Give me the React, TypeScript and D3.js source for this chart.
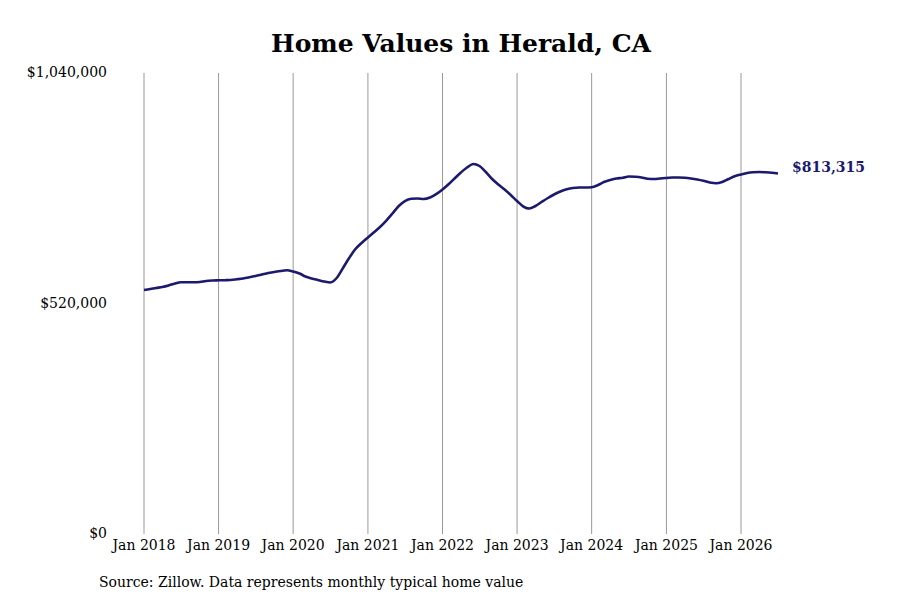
import React from "react";
import * as d3 from "d3";

const title = "Home Values in Herald, CA";
const source = "Source: Zillow. Data represents monthly typical home value";
const startYear = 2018;
const yTicks = [0, 520000, 1040000];
const xTickYears = [2018, 2019, 2020, 2021, 2022, 2023, 2024, 2025, 2026];
const values = [
  550500, 552700, 555000, 557200, 560600, 565100, 567800, 567800, 567800, 568500, 570800, 571900,
  572300, 572600, 573000, 574600, 576400, 579100, 582000, 585400, 588800, 591100, 593300, 594900,
  592200, 587700, 580900, 576400, 573000, 569600, 567400, 577500, 600100, 622600, 643000, 656500,
  668900, 681300, 692600, 707200, 723000, 740000, 751200, 756200, 756900, 755700, 759100, 766600,
  777200, 789600, 802000, 815500, 826800, 834700, 830200, 816700, 800900, 788500, 777200, 764800,
  751200, 738800, 734300, 740000, 749000, 758000, 765900, 772700, 777600, 780600, 781700, 781700,
  782400, 787300, 794100, 798600, 802000, 803600, 806500, 805800, 804200, 801300, 800900, 802000,
  803100, 804200, 804200, 803600, 802000, 799700, 796800, 793000, 791200, 794100, 800900, 807000,
  811000, 814400, 816000, 816700, 816000, 814900, 813315,
];
const dates = values.map((_, i) => new Date(startYear, i, 1));

const W = 900;
const H = 600;
const FONT = "'DejaVu Serif', serif";
const NAVY = "#1b1a6c";

export default function App() {
  const x = d3
    .scaleTime()
    .domain([new Date(2018, 0, 1), new Date(2026, 0, 1)])
    .range([144, 741]);
  const y = d3.scaleLinear().domain([0, 1040000]).range([534, 73]);
  const line = d3
    .line<number>()
    .x((_, i) => x(dates[i]))
    .y((d) => y(d))
    .curve(d3.curveMonotoneX);
  const fmt = (v: number) => "$" + d3.format(",")(v);
  const lastX = x(dates[dates.length - 1]);
  const lastY = y(values[values.length - 1]);

  return (
    <svg
      width={W}
      height={H}
      style={{ position: "absolute", left: 0, top: 0, background: "#fff" }}
      fontFamily={FONT}
    >
      <rect width={W} height={H} fill="#fff" />
      <text x={461} y={52} textAnchor="middle" fontSize={25} fontWeight="bold" fill="#000">
        {title}
      </text>
      {xTickYears.map((yr) => (
        <line
          key={yr}
          x1={x(new Date(yr, 0, 1))}
          x2={x(new Date(yr, 0, 1))}
          y1={73}
          y2={534}
          stroke="#999"
          strokeWidth={1}
        />
      ))}
      {yTicks.map((t) => (
        <text key={t} x={107} y={y(t)} dy="0.3em" textAnchor="end" fontSize={14} fill="#000">
          {fmt(t)}
        </text>
      ))}
      {xTickYears.map((yr) => (
        <text
          key={yr}
          x={x(new Date(yr, 0, 1))}
          y={545}
          dy="0.35em"
          textAnchor="middle"
          fontSize={14}
          fill="#000"
        >
          {"Jan " + yr}
        </text>
      ))}
      <path d={line(values) || ""} fill="none" stroke={NAVY} strokeWidth={2.6} strokeLinejoin="round" />
      <text x={lastX + 14} y={lastY - 6} dy="0.35em" fontSize={14} fontWeight="bold" fill={NAVY}>
        {fmt(values[values.length - 1])}
      </text>
      <text x={99} y={582} dy="0.35em" fontSize={14} fill="#000">
        {source}
      </text>
    </svg>
  );
}
